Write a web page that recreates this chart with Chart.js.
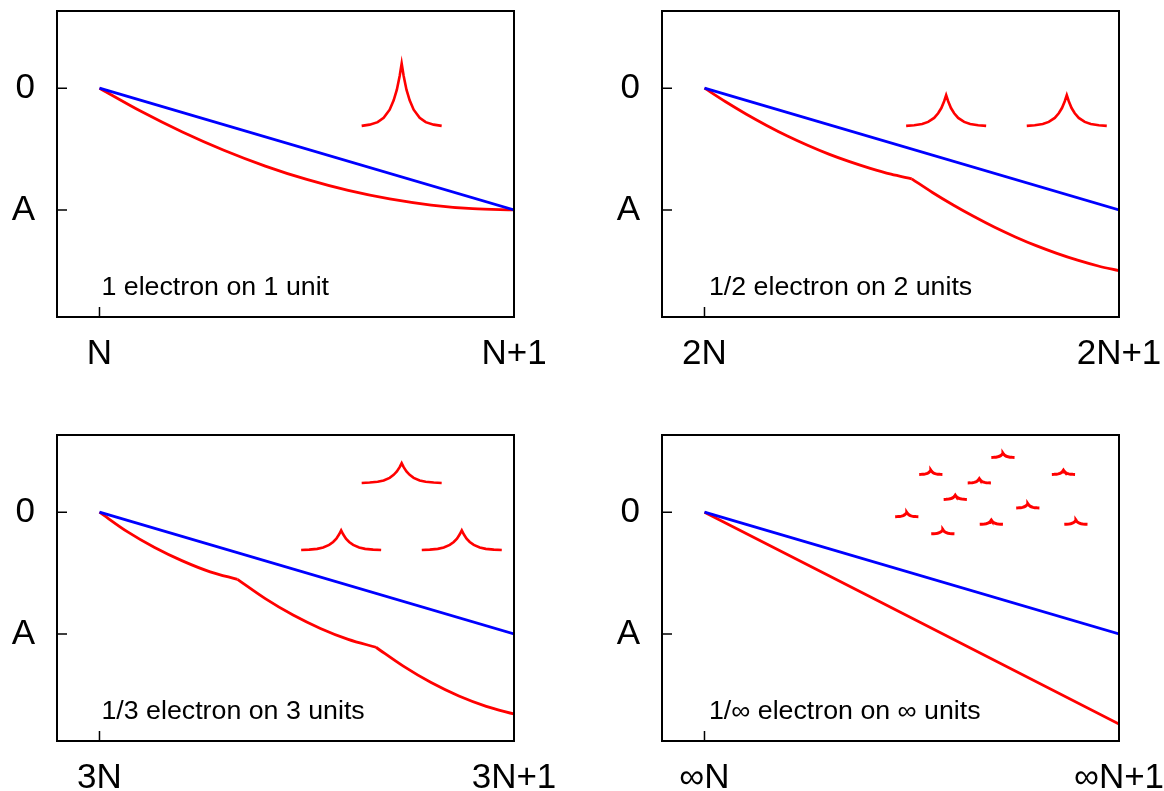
<!DOCTYPE html>
<html>
<head>
<meta charset="utf-8">
<script src="https://cdn.jsdelivr.net/npm/chart.js@4.4.0/dist/chart.umd.min.js"></script>
<style>
  body { margin: 0; background: #fff; }
  canvas { position: absolute; }
</style>
</head>
<body>
<canvas id="c1" width="559" height="367" style="left:0;top:0"></canvas>
<canvas id="c2" width="559" height="367" style="left:605px;top:0"></canvas>
<canvas id="c3" width="559" height="367" style="left:0;top:424px"></canvas>
<canvas id="c4" width="559" height="367" style="left:605px;top:424px"></canvas>
<script>
// axis ticks and labels
const xTicks = [0, 1];
const yTicks = [-1, 0];
const yLabels = ["A", "0"];
const xLabels = [["N", "N+1"], ["2N", "2N+1"], ["3N", "3N+1"], ["\u221eN", "\u221eN+1"]];
const captions = [
  "1 electron on 1 unit",
  "1/2 electron on 2 units",
  "1/3 electron on 3 units",
  "1/\u221e electron on \u221e units",
];

// straight (blue) line, same in all panels
const blueX = [0, 1];
const blueY = [0, -1];

// red energy curves (x values where a segment ends = kink)
const red1X = [0, 0.1, 0.2, 0.3, 0.4, 0.5, 0.6, 0.7, 0.8, 0.9, 1];
const red1Y = [0, -0.19, -0.36, -0.51, -0.64, -0.75, -0.84, -0.91, -0.96, -0.99, -1];
const red1Kinks = [];

const red2X = [0, 0.05, 0.1, 0.15, 0.2, 0.25, 0.3, 0.35, 0.4, 0.45, 0.5,
  0.55, 0.6, 0.65, 0.7, 0.75, 0.8, 0.85, 0.9, 0.95, 1];
const red2Y = [0, -0.11, -0.212, -0.306, -0.393, -0.471, -0.542, -0.604, -0.659, -0.707, -0.745,
  -0.857, -0.96, -1.055, -1.143, -1.222, -1.294, -1.357, -1.413, -1.461, -1.5];
const red2Kinks = [0.5];

const red3X = [0, 0.067, 0.133, 0.2, 0.267, 0.333, 0.4, 0.467, 0.533, 0.6, 0.667,
  0.733, 0.8, 0.867, 0.933, 1];
const red3Y = [0, -0.16, -0.29, -0.4, -0.49, -0.552, -0.71, -0.845, -0.955, -1.045, -1.11,
  -1.265, -1.4, -1.51, -1.595, -1.658];
const red3Kinks = [0.333, 0.667];

const red4X = [0, 1];
const red4Y = [0, -1.74];
const red4Kinks = [];

// cusp (density) shape, offsets in half-widths and relative heights
const cuspU = [-1, -0.8, -0.6, -0.45, -0.3, -0.2, -0.12, -0.05, 0, 0.05, 0.12, 0.2, 0.3, 0.45, 0.6, 0.8, 1];
const cuspH = [0, 0.02, 0.06, 0.13, 0.26, 0.41, 0.58, 0.8, 1, 0.8, 0.58, 0.41, 0.26, 0.13, 0.06, 0.02, 0];

// cusp centres and base levels per panel
const cusp1X = [0.729];
const cusp1Y = [-0.31];
const cusp2X = [0.583, 0.874];
const cusp2Y = [-0.31, -0.31];
const cusp3X = [0.729, 0.583, 0.874];
const cusp3Y = [0.24, -0.311, -0.311];
const cusp4X = [0.72, 0.546, 0.866, 0.663, 0.605, 0.78, 0.488, 0.692, 0.896, 0.575];
const cusp4Y = [0.45, 0.31, 0.31, 0.24, 0.105, 0.035, -0.037, -0.1, -0.1, -0.178];
const cuspHeight = [0.513, 0.253, 0.162, 0.035];
const cuspHalfWidth = [0.0965, 0.0965, 0.0965, 0.028];

const FONT = '"Liberation Sans", Arial, Helvetica, sans-serif';

function points(xs, ys) {
  return xs.map((x, i) => ({ x, y: ys[i] }));
}

// split a curve at its kinks so each smooth piece is its own dataset
function pieces(xs, ys, kinks) {
  const out = [];
  let cur = [];
  xs.forEach((x, i) => {
    cur.push({ x, y: ys[i] });
    if (kinks.includes(x)) {
      out.push(cur);
      cur = [{ x, y: ys[i] }];
    }
  });
  out.push(cur);
  return out;
}

function cuspPoints(xs, ys, h, hw) {
  const pts = [];
  xs.forEach((cx, k) => {
    cuspU.forEach((u, i) => pts.push({ x: cx + u * hw, y: ys[k] + cuspH[i] * h }));
    pts.push({ x: cx + hw, y: null });
  });
  return pts;
}

const framePlugin = {
  id: "frame",
  afterDraw(chart, args, opts) {
    const { ctx, chartArea: a } = chart;
    const xs = chart.scales.x, ys = chart.scales.y;
    ctx.save();
    ctx.strokeStyle = "#000";
    ctx.lineWidth = 2;
    ctx.strokeRect(a.left, a.top, a.right - a.left, a.bottom - a.top);

    ctx.lineWidth = 1.5;
    ctx.beginPath();
    yTicks.forEach((v) => {
      const py = ys.getPixelForValue(v);
      ctx.moveTo(a.left, py);
      ctx.lineTo(a.left + 10, py);
    });
    const px = xs.getPixelForValue(0);
    ctx.moveTo(px, a.bottom);
    ctx.lineTo(px, a.bottom - 10);
    ctx.stroke();

    ctx.fillStyle = "#000";
    ctx.font = "25px " + FONT;
    ctx.textBaseline = "alphabetic";
    ctx.textAlign = "left";
    ctx.translate(px + opts.dx, a.bottom - 22);
    ctx.scale(1.07, 1);
    ctx.fillText(opts.text, 0, 0);
    ctx.restore();
  },
};

const reds = [
  [red1X, red1Y, red1Kinks],
  [red2X, red2Y, red2Kinks],
  [red3X, red3Y, red3Kinks],
  [red4X, red4Y, red4Kinks],
];
const cusps = [[cusp1X, cusp1Y], [cusp2X, cusp2Y], [cusp3X, cusp3Y], [cusp4X, cusp4Y]];

function makeChart(idx) {
  const ctx = document.getElementById("c" + (idx + 1)).getContext("2d");
  const labels = xLabels[idx];
  const [rx, ry, rk] = reds[idx];
  const redSets = pieces(rx, ry, rk).map((d) => ({
    data: d,
    showLine: true,
    borderColor: "#ff0000",
    borderWidth: 2.8,
    pointRadius: 0,
    cubicInterpolationMode: "monotone",
  }));
  return new Chart(ctx, {
    type: "scatter",
    data: {
      datasets: [
        {
          data: points(blueX, blueY),
          showLine: true,
          borderColor: "#0000ff",
          borderWidth: 2.8,
          pointRadius: 0,
        },
        ...redSets,
        {
          data: cuspPoints(cusps[idx][0], cusps[idx][1], cuspHeight[idx], cuspHalfWidth[idx]),
          showLine: true,
          spanGaps: false,
          borderColor: "#ff0000",
          borderWidth: idx === 3 ? 3 : 2.6,
          pointRadius: 0,
        },
      ],
    },
    options: {
      responsive: false,
      animation: false,
      layout: { padding: { left: 0, top: 11, right: 45, bottom: 0 } },
      plugins: {
        legend: { display: false },
        tooltip: { enabled: false },
        frame: { text: captions[idx], dx: idx % 2 ? 4.5 : 2 },
      },
      scales: {
        x: {
          type: "linear",
          min: -0.1025,
          max: 1,
          grid: { display: false, drawTicks: false },
          border: { display: false },
          afterBuildTicks: (s) => {
            s.ticks = xTicks.map((v) => ({ value: v }));
          },
          afterFit: (s) => {
            s.height = 50;
            s.paddingLeft = 0;
            s.paddingRight = 0;
          },
          ticks: {
            autoSkip: false,
            maxRotation: 0,
            padding: 16,
            color: "#000",
            font: { size: 35, family: FONT },
            callback: (v, i) => labels[i],
          },
        },
        y: {
          type: "linear",
          min: -1.88,
          max: 0.634,
          grid: { display: false, drawTicks: false },
          border: { display: false },
          afterBuildTicks: (s) => {
            s.ticks = yTicks.map((v) => ({ value: v }));
          },
          afterFit: (s) => {
            s.width = 57;
            s.paddingTop = 0;
            s.paddingBottom = 0;
          },
          ticks: {
            autoSkip: false,
            padding: 22,
            color: "#000",
            font: { size: 35, family: FONT },
            callback: (v, i) => yLabels[i],
          },
        },
      },
    },
    plugins: [framePlugin],
  });
}

[0, 1, 2, 3].forEach(makeChart);
</script>
</body>
</html>
